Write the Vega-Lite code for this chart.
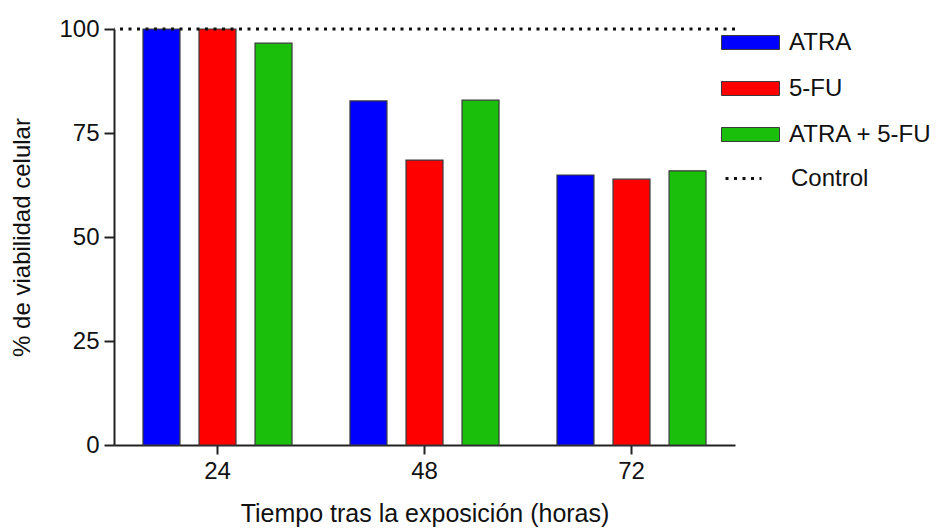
{
  "$schema": "https://vega.github.io/schema/vega-lite/v6.json",
  "autosize": {"type": "none"},
  "padding": {"left": 114, "top": 29, "right": 203, "bottom": 85},
  "width": 621,
  "height": 416,
  "background": "white",
  "config": {
    "view": {"stroke": null},
    "font": "Liberation Sans",
    "axis": {"grid": false, "domainColor": "#222", "domainWidth": 2, "tickColor": "#222", "tickWidth": 2, "labelColor": "#111", "titleColor": "#111", "labelFont": "Liberation Sans", "titleFont": "Liberation Sans", "titleFontWeight": "normal"}
  },
  "resolve": {"legend": {"color": "independent", "strokeDash": "independent"}},
  "layer": [
    {
      "data": {"values": [
        {"hora": "24", "tratamiento": "ATRA", "viabilidad": 100},
        {"hora": "24", "tratamiento": "5-FU", "viabilidad": 100},
        {"hora": "24", "tratamiento": "ATRA + 5-FU", "viabilidad": 96.6},
        {"hora": "48", "tratamiento": "ATRA", "viabilidad": 82.7},
        {"hora": "48", "tratamiento": "5-FU", "viabilidad": 68.5},
        {"hora": "48", "tratamiento": "ATRA + 5-FU", "viabilidad": 82.9},
        {"hora": "72", "tratamiento": "ATRA", "viabilidad": 64.9},
        {"hora": "72", "tratamiento": "5-FU", "viabilidad": 63.9},
        {"hora": "72", "tratamiento": "ATRA + 5-FU", "viabilidad": 65.9}
      ]},
      "mark": {"type": "bar", "stroke": "#3a3a3a", "strokeWidth": 1.2},
      "encoding": {
        "x": {
          "field": "hora", "type": "nominal", "sort": ["24", "48", "72"],
          "scale": {"paddingInner": 0.28, "paddingOuter": 0.14},
          "axis": {"title": "Tiempo tras la exposición (horas)", "labelAngle": 0, "labelFontSize": 24, "titleFontSize": 25, "tickSize": 9, "labelPadding": 5, "titlePadding": 18}
        },
        "xOffset": {
          "field": "tratamiento", "type": "nominal", "sort": ["ATRA", "5-FU", "ATRA + 5-FU"],
          "scale": {"paddingInner": 0.34, "paddingOuter": 0}
        },
        "y": {
          "field": "viabilidad", "type": "quantitative",
          "scale": {"domain": [0, 100], "nice": false},
          "axis": {"title": "% de viabilidad celular", "values": [0, 25, 50, 75, 100], "labelFontSize": 24, "titleFontSize": 24, "tickSize": 10, "labelPadding": 5, "titlePadding": 24}
        },
        "color": {
          "field": "tratamiento", "type": "nominal",
          "scale": {"domain": ["ATRA", "5-FU", "ATRA + 5-FU"], "range": ["#0000ff", "#ff0000", "#1abf0b"]},
          "legend": {
            "orient": "none", "legendX": 616, "legendY": -7, "title": null, "padding": 0,
            "symbolType": "M-1.45,-0.35H1.45V0.35H-1.45Z", "symbolSize": 1600,
            "symbolStrokeColor": "#3a3a3a", "symbolStrokeWidth": 1, "symbolOpacity": 1,
            "labelFontSize": 24, "labelFont": "Liberation Sans", "labelColor": "#111", "labelOffset": 18, "rowPadding": 13
          }
        }
      }
    },
    {
      "data": {"values": [{"serie": "Control", "valor": 100}]},
      "mark": {"type": "rule", "strokeWidth": 3, "color": "#111"},
      "encoding": {
        "y": {"field": "valor", "type": "quantitative"},
        "strokeDash": {
          "field": "serie", "type": "nominal",
          "scale": {"domain": ["Control"], "range": [[3, 5.5]]},
          "legend": {
            "orient": "none", "legendX": 616, "legendY": 128, "title": null, "padding": 0,
            "symbolType": "M-1.3,0H0.5", "symbolSize": 1600,
            "symbolStrokeColor": "#111", "symbolStrokeWidth": 3, "symbolFillColor": "transparent",
            "labelFontSize": 24, "labelFont": "Liberation Sans", "labelColor": "#111", "labelOffset": 18
          }
        }
      }
    }
  ]
}
